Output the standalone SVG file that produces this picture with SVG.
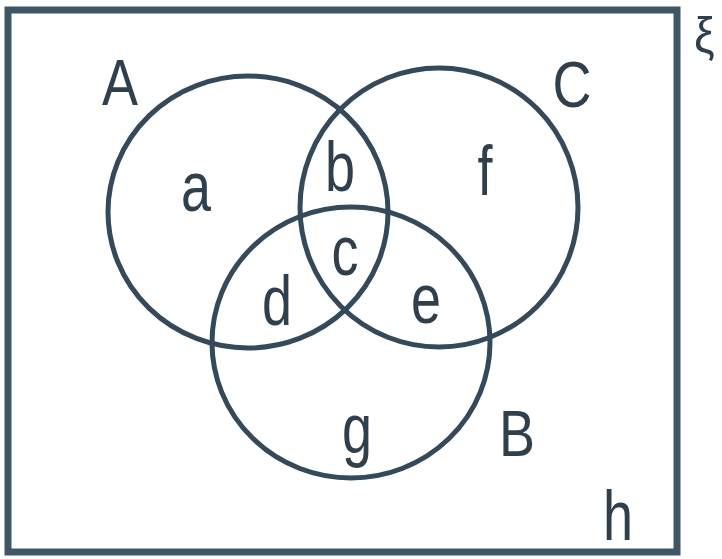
<svg xmlns="http://www.w3.org/2000/svg" width="722" height="559" viewBox="0 0 722 559">
  <style>
    .frame { fill: none; stroke: #3f5665; stroke-width: 7; }
    .set { fill: none; stroke: #34495a; stroke-width: 5; }
    .lbl { font-family: "Liberation Sans", Arial, sans-serif; font-size: 54px; fill: #2f3f4c; text-anchor: middle; }
  </style>
  <rect width="722" height="559" fill="#ffffff"/>
  <g id="universe">
    <rect class="frame" x="8" y="10" width="669" height="542"/>
    <text class="lbl" style="text-anchor:start;font-size:46px" transform="translate(694 52) scale(1 1.1)">ξ</text>
    <text class="lbl" transform="translate(618 540) scale(1 1.3)">h</text>
  </g>
  <g id="set-A">
    <ellipse class="set" cx="248" cy="212" rx="140" ry="136"/>
    <text class="lbl" transform="translate(120 105) scale(1 1.2)">A</text>
  </g>
  <g id="set-C">
    <ellipse class="set" cx="439" cy="207.5" rx="139" ry="139.5"/>
    <text class="lbl" transform="translate(572 107) scale(1 1.2)">C</text>
  </g>
  <g id="set-B">
    <ellipse class="set" cx="351" cy="342.5" rx="139" ry="135.5"/>
    <text class="lbl" transform="translate(517 456) scale(1 1.2)">B</text>
  </g>
  <g id="regions">
    <text class="lbl" transform="translate(196 211) scale(1 1.3)">a</text>
    <text class="lbl" transform="translate(340 191) scale(1 1.3)">b</text>
    <text class="lbl" transform="translate(345 275) scale(1 1.3)">c</text>
    <text class="lbl" transform="translate(277 325) scale(1 1.3)">d</text>
    <text class="lbl" transform="translate(426 323) scale(1 1.3)">e</text>
    <text class="lbl" transform="translate(485 195) scale(1 1.3)">f</text>
    <text class="lbl" transform="translate(357 453) scale(1 1.3)">g</text>
  </g>
  <g id="connectors"></g>
</svg>
